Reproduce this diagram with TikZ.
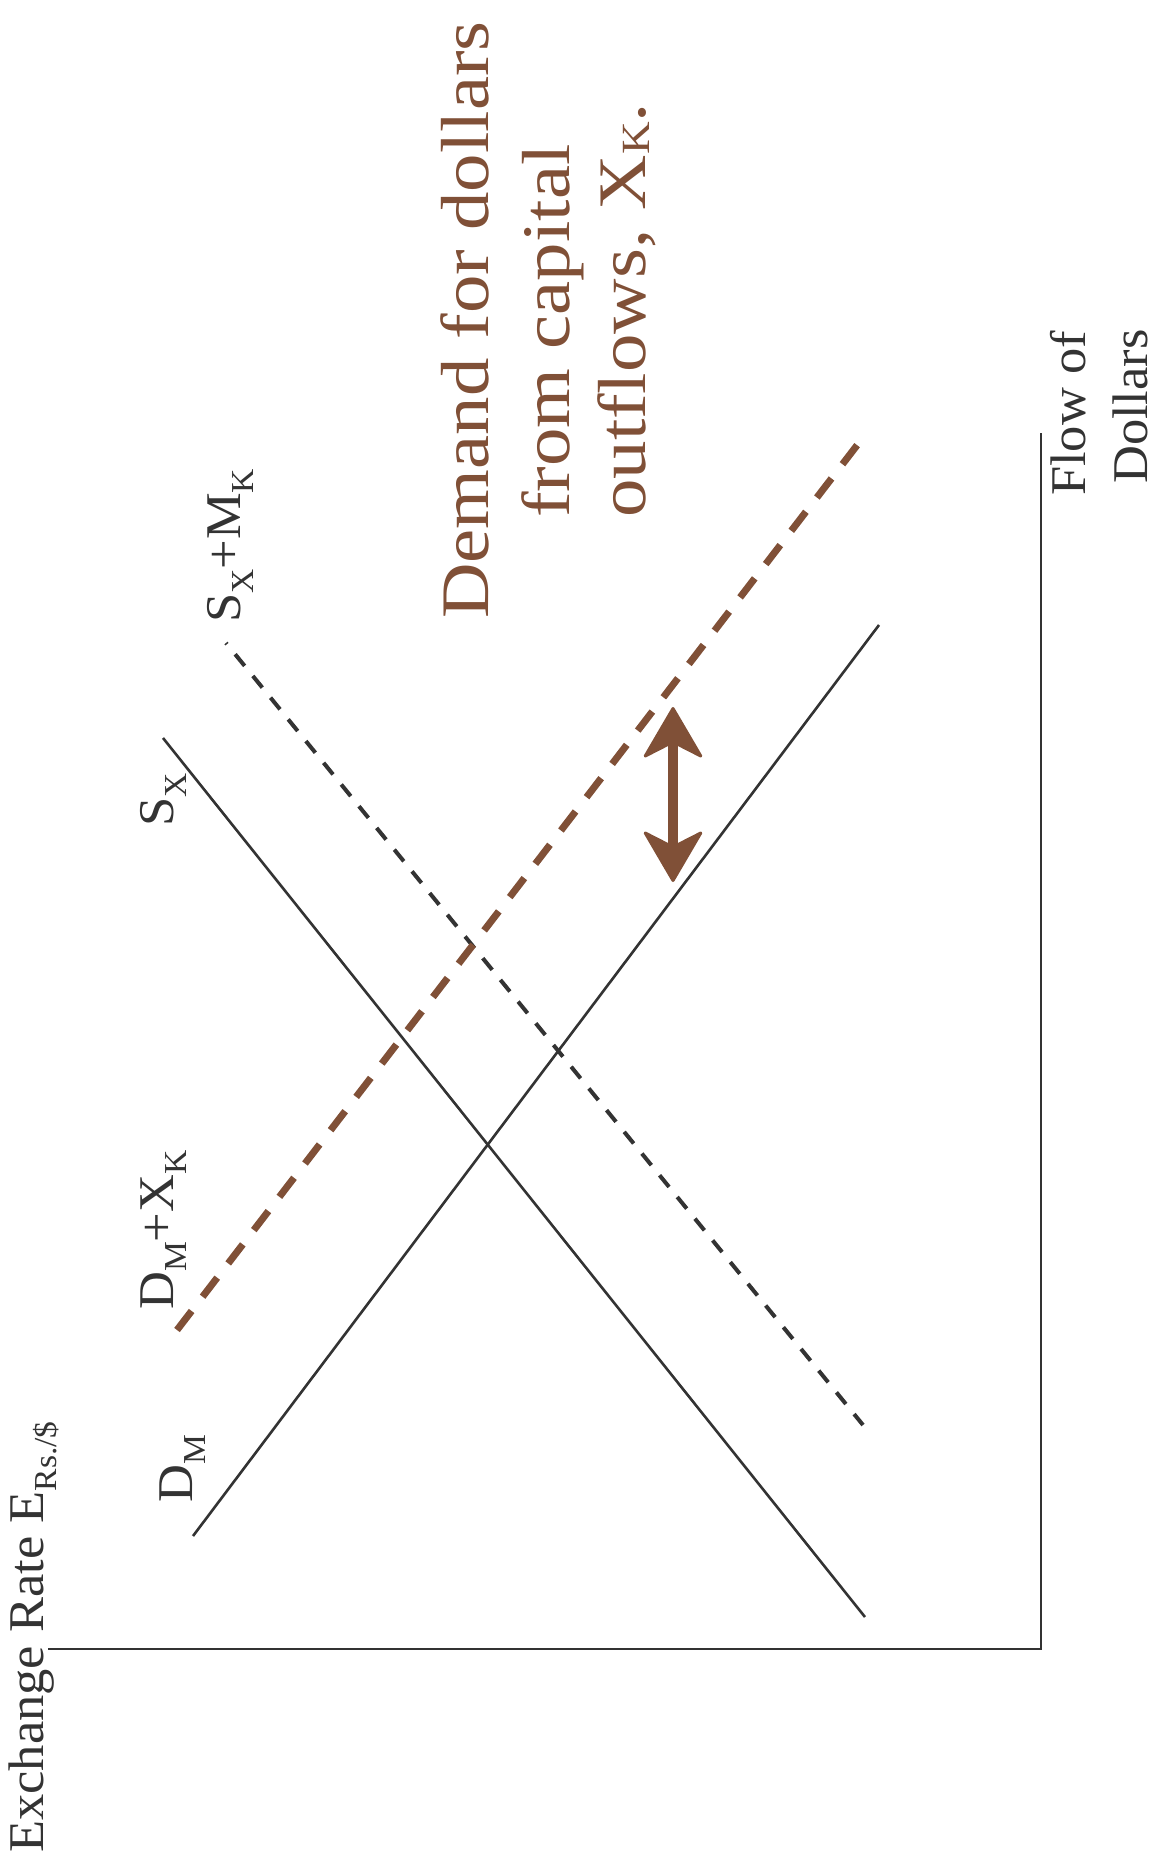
\documentclass[tikz,border=0pt]{standalone}
\usepackage{fontspec}
\setmainfont{Liberation Serif}[FakeStretch=1.05]
\newfontfamily\brownfont{Liberation Serif}[FakeStretch=1.13]
\usetikzlibrary{arrows.meta}
\definecolor{ink}{RGB}{51,51,51}
\definecolor{rust}{RGB}{128,80,55}
\newcommand\lsub[1]{\raisebox{-13pt}{\fontsize{32}{32}\selectfont #1}}
\newcommand\bsub[1]{\raisebox{-4pt}{\fontsize{40}{40}\selectfont #1}}
\tikzset{
  lbl/.style={rotate=90, anchor=base west, inner sep=0pt, text depth=0pt, text=ink, font=\fontsize{50}{50}\selectfont},
  blbl/.style={rotate=90, anchor=base west, inner sep=0pt, text depth=0pt, text=rust, font=\brownfont\fontsize{68}{68}\selectfont},
  curve/.style={draw=ink, line width=2.6pt},
  dcurve/.style={draw=ink, line width=4pt, dash pattern=on 15pt off 13pt, dash phase=13.5pt},
  bcurve/.style={draw=rust, line width=7pt, dash pattern=on 24pt off 18pt},
  axis/.style={draw=ink, line width=2.6pt},
  tip/.tip={Stealth[length=54pt, width=63pt, inset=16pt, round, line width=3pt]},
}
\begin{document}
\begin{tikzpicture}[x=1pt,y=-1pt]
\useasboundingbox (0,0) rectangle (1160,1868);
% axes
\coordinate (orig) at (1041,1649);
\coordinate (xend) at (48,1649);
\coordinate (yend) at (1041,433);
\draw[axis] (xend) -- (orig) -- (yend);
% curves
\coordinate (dm1) at (193,1536); \coordinate (dm2) at (879,625);
\coordinate (sx1) at (163,738);  \coordinate (sx2) at (865,1617);
\coordinate (sm1) at (226,643);  \coordinate (sm2) at (863,1425);
\coordinate (dx1) at (177,1330); \coordinate (dx2) at (858,444);
\draw[curve] (dm1) -- (dm2);
\draw[curve] (sx1) -- (sx2);
\draw[dcurve] (sm1) -- (sm2);
\draw[bcurve] (dx1) -- (dx2);
% double arrow
\coordinate (arT) at (673,707);
\coordinate (arB) at (673,882);
\draw[draw=rust, fill=rust, line width=10pt, {tip}-{tip}] (arT) -- (arB);
% labels
\node[lbl] (ylab) at (43,1853) {Exchange Rate E\lsub{Rs./\$}};
\node[lbl] (ldm) at (192,1503) {D\lsub{M}};
\node[lbl] (ldx) at (173,1310) {D\lsub{M}+X\lsub{K}};
\node[lbl] (lsx) at (173,827) {S\lsub{X}};
\node[lbl] (lsm) at (240,623) {S\lsub{X}+M\lsub{K}};
\node[lbl] (xlab1) at (1085,496) {Flow of};
\node[lbl] (xlab2) at (1147,484) {Dollars};
\node[blbl] (t1) at (488,619) {Demand for dollars};
\node[blbl] (t2) at (569,518) {from capital};
\node[blbl] (t3) at (645,518) {outflows, X\bsub{K}.};
\end{tikzpicture}
\end{document}
